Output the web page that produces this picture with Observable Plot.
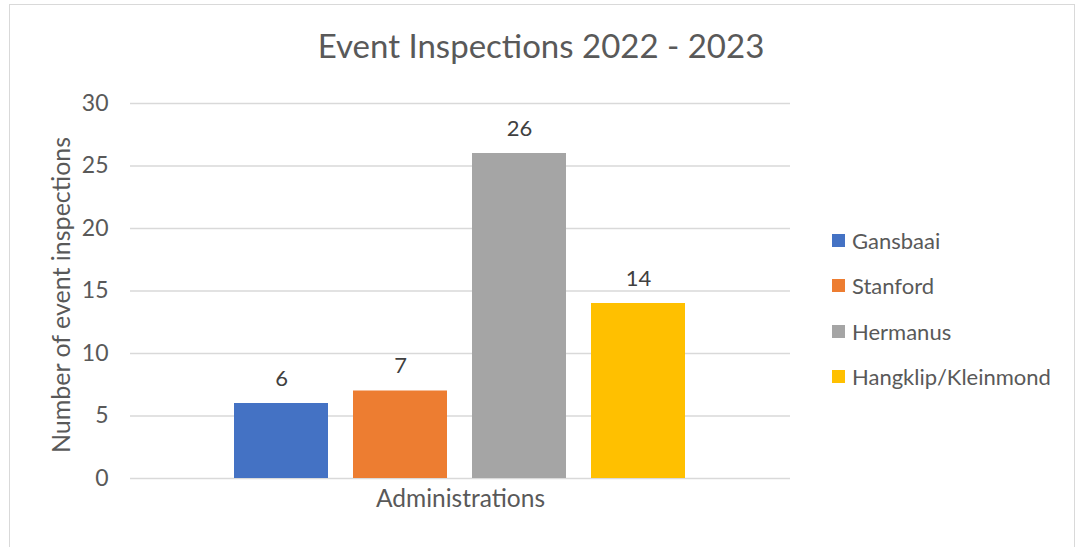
<!DOCTYPE html>
<html>
<head>
<meta charset="utf-8">
<script src="https://cdn.jsdelivr.net/npm/d3@7"></script>
<script src="https://cdn.jsdelivr.net/npm/@observablehq/plot@0.6"></script>
<style>
  html, body { margin: 0; padding: 0; background: #fff; }
  #wrap { position: relative; width: 1077px; height: 547px; overflow: hidden; font-family: Lato, "Open Sans", sans-serif; }
  #frame { position: absolute; left: 9px; top: 4px; width: 1066px; height: 600px; border: 1px solid #d9d9d9; box-sizing: border-box; }
  #title { position: absolute; left: 0; width: 1082px; top: 25px; text-align: center; font-size: 33px; color: #595959; white-space: nowrap; }
  #legend { position: absolute; left: 832px; top: 218px; font-size: 22px; color: #595959; }
  .item { display: flex; align-items: center; height: 45.3px; }
  .sw { width: 13px; height: 13px; margin-right: 7px; }
  svg { position: absolute; left: 0; top: 0; }
</style>
</head>
<body>
<div id="wrap">
  <div id="frame"></div>
  <div id="title"></div>
  <div id="legend"></div>
</div>
<script>
const title = "Event Inspections 2022 - 2023";
const categories = ["Gansbaai", "Stanford", "Hermanus", "Hangklip/Kleinmond"];
const values = [6, 7, 26, 14];
const colors = ["#4472c4", "#ed7d31", "#a5a5a5", "#ffc000"];
const yTicks = [0, 5, 10, 15, 20, 25, 30];
const yLabel = "Number of event inspections";
const xLabel = "Administrations";

const data = categories.map((c, i) => ({name: c, value: values[i]}));

const chart = Plot.plot({
  width: 1077,
  height: 547,
  marginTop: 103,
  marginBottom: 69,
  marginLeft: 130,
  marginRight: 287,
  style: {fontFamily: "Lato, 'Open Sans', sans-serif", background: "transparent", overflow: "visible"},
  x: {domain: categories, range: [233, 687], paddingInner: 0.208, paddingOuter: 0, axis: null},
  y: {domain: [0, 30], ticks: yTicks},
  color: {domain: categories, range: colors},
  marks: [
    Plot.ruleY(yTicks, {stroke: "#d9d9d9", strokeWidth: 1.3}),
    Plot.axisY({ticks: yTicks, tickSize: 0, tickPadding: 22, fontSize: 23, label: null, color: "#595959"}),
    Plot.barY(data, {x: "name", y: "value", fill: "name"}),
    Plot.text(data, {x: "name", y: "value", text: d => String(d.value), dy: -25, fontSize: 22, fill: "#404040"}),
    Plot.text([yLabel], {frameAnchor: "left", textAnchor: "middle", text: d => d, rotate: -90, dx: -69, dy: 4, fontSize: 25, fill: "#595959"}),
    Plot.text([xLabel], {frameAnchor: "bottom", text: d => d, dy: 28, fontSize: 24.5, fill: "#595959"})
  ]
});
document.getElementById("wrap").appendChild(chart);
document.getElementById("title").textContent = title;
const legend = document.getElementById("legend");
categories.forEach((c, i) => {
  const item = document.createElement("div");
  item.className = "item";
  const sw = document.createElement("div");
  sw.className = "sw";
  sw.style.background = colors[i];
  const t = document.createElement("span");
  t.textContent = c;
  item.appendChild(sw); item.appendChild(t);
  legend.appendChild(item);
});
</script>
</body>
</html>
